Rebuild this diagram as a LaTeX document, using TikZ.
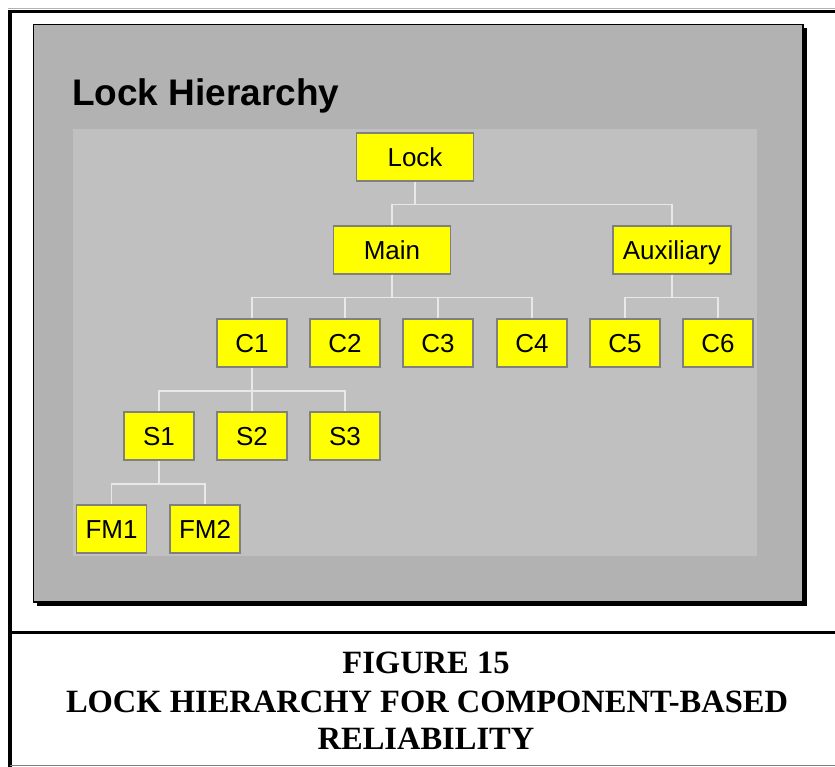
\documentclass[tikz,border=0pt]{standalone}
\usepackage{fontspec}
\setmainfont{Liberation Serif}
\setsansfont{Liberation Sans}
\definecolor{panelgray}{HTML}{B2B2B2}
\definecolor{areagray}{HTML}{C0C0C0}
\definecolor{boxyellow}{HTML}{FFFF00}
\definecolor{boxline}{HTML}{808080}
\definecolor{linkline}{HTML}{E8E8E8}
\begin{document}
\begin{tikzpicture}[x=1pt,y=-1pt,
    part/.style={rectangle,draw=boxline,line width=1.5pt,fill=boxyellow,
        minimum height=48pt,minimum width=70pt,inner sep=0pt,
        text height=18.6pt,text depth=0pt,
        font=\sffamily\fontsize{26}{30}\selectfont},
    wide/.style={part,minimum width=117pt},
    capline/.style={anchor=base,inner sep=0pt,font=\bfseries\fontsize{32.5}{38}\selectfont},
    tree/.style={draw=linkline,line width=1.5pt,
        to path={(\tikztostart) -- ++(0,23) -| (\tikztotarget)}}]
            \useasboundingbox (0,0) rectangle (835,767);
            % frame
            \draw[gray!60,line width=0.8pt] (8,8.5) -- (835,8.5);
            \draw[line width=3.5pt] (10,767) -- (10,11.5) -- (836,11.5);
            \draw[line width=3pt] (10,632.5) -- (836,632.5);
            \draw[gray,line width=1pt] (10,765.5) -- (835,765.5);
            
            % panel
            \fill (37,28) rectangle (807,606);
            \filldraw[fill=panelgray,draw=black,line width=1.5pt] (33.5,24.5) rectangle (803,602);
            \fill[areagray] (73,129) rectangle (757,556);
            \node[anchor=base west,inner sep=0pt,font=\sffamily\bfseries\fontsize{37}{40}\selectfont] (title) at (72,106) {Lock Hierarchy};
            
            \node[wide] (Lock) at (415,157) {Lock};
            \node[wide] (Main) at (392,250) {Main};
            \node[wide,minimum width=118pt] (Aux) at (672,250) {Auxiliary};
            
            \node[part] (C1) at (252,343) {C1};
            \node[part] (C2) at (345,343) {C2};
            \node[part] (C3) at (438,343) {C3};
            \node[part] (C4) at (532,343) {C4};
            \node[part] (C5) at (625,343) {C5};
            \node[part] (C6) at (718,343) {C6};
            
            \node[part] (S1) at (159,436) {S1};
            \node[part] (S2) at (252,436) {S2};
            \node[part] (S3) at (345,436) {S3};
            
            \node[part] (FM1) at (111.5,529) {FM1};
            \node[part] (FM2) at (205,529) {FM2};
            
            \path [tree] (Lock.south) edge (Main);
            \path [tree] (Lock.south) edge (Aux);
            \path [tree] (Main.south) edge (C1);
            \path [tree] (Main.south) edge (C2);
            \path [tree] (Main.south) edge (C3);
            \path [tree] (Main.south) edge (C4);
            \path [tree] (Aux.south) edge (C5);
            \path [tree] (Aux.south) edge (C6);
            \path [tree] (C1.south) edge (S1);
            \path [tree] (C1.south) edge (S2);
            \path [tree] (C1.south) edge (S3);
            \path [tree] (S1.south) edge (FM1);
            \path [tree] (S1.south) edge (FM2);
            
            % caption
            \node[capline] (fig) at (426,673) {FIGURE 15};
            \node[capline] (cap1) at (427,712) {LOCK HIERARCHY FOR COMPONENT-BASED};
            \node[capline] (cap2) at (426,749) {RELIABILITY};
        \end{tikzpicture}
\end{document}
